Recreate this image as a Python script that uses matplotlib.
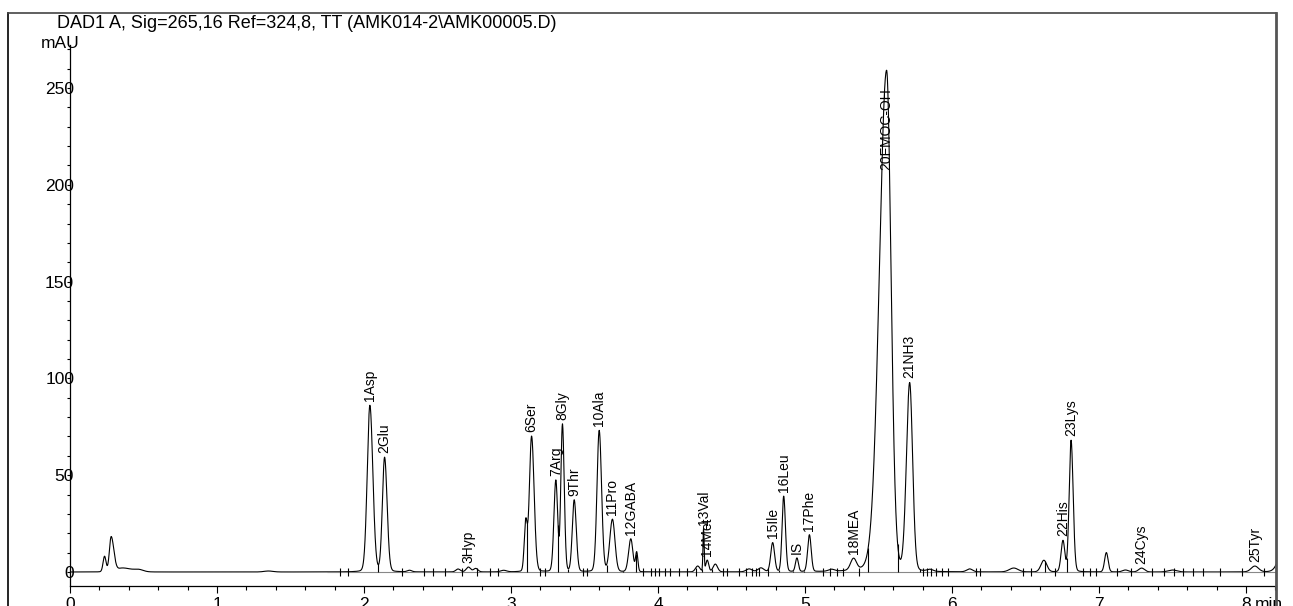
import numpy as np
import matplotlib
matplotlib.use("Agg")
import matplotlib.pyplot as plt
from matplotlib.lines import Line2D

plt.rcParams['font.family'] = ['Liberation Sans', 'DejaVu Sans']

# peak table (min, mAU)
peak_rt = [0.235, 0.280, 0.360, 0.47, 1.35, 2.040, 2.140, 2.31, 2.64, 2.71, 2.76, 2.95,
           3.10, 3.140, 3.305, 3.350, 3.430, 3.600, 3.690, 3.815, 3.855, 4.27, 4.310,
           4.335, 4.39, 4.62, 4.70, 4.780, 4.855, 4.945, 5.030, 5.18, 5.330, 5.555,
           5.712, 5.85, 6.12, 6.42, 6.625, 6.755, 6.810, 7.050, 7.18, 7.29, 7.50,
           8.06, 8.28]
peak_height = [8, 18, 2, 1.0, 0.5, 86, 59, 0.8, 1.5, 2.5, 1.8, 0.8,
               25, 70, 47, 76, 37, 73, 27, 17, 10, 3, 22,
               6, 4, 1.5, 2, 15, 39, 7, 19, 1, 6, 259,
               97, 1, 1.5, 2, 6, 16, 68, 10, 1, 2, 1,
               3, 22]
peak_sigma_left = [0.010, 0.012, 0.040, 0.030, 0.030, 0.018, 0.015, 0.015, 0.015, 0.015, 0.015, 0.02,
                   0.010, 0.015, 0.013, 0.011, 0.013, 0.015, 0.018, 0.015, 0.008, 0.015, 0.004,
                   0.010, 0.015, 0.02, 0.02, 0.013, 0.011, 0.010, 0.012, 0.02, 0.020, 0.049,
                   0.022, 0.02, 0.02, 0.03, 0.020, 0.013, 0.013, 0.012, 0.02, 0.02, 0.03,
                   0.025, 0.040]
peak_sigma_right = [0.010, 0.018, 0.060, 0.030, 0.030, 0.020, 0.017, 0.015, 0.015, 0.015, 0.015, 0.02,
                    0.010, 0.017, 0.012, 0.012, 0.014, 0.016, 0.017, 0.014, 0.008, 0.015, 0.004,
                    0.010, 0.015, 0.02, 0.02, 0.013, 0.012, 0.010, 0.012, 0.02, 0.020, 0.030,
                    0.020, 0.02, 0.02, 0.03, 0.020, 0.012, 0.014, 0.012, 0.02, 0.02, 0.03,
                    0.025, 0.040]
peak_name = ["", "", "", "", "", "1Asp", "2Glu", "", "", "3Hyp", "", "",
             "", "6Ser", "7Arg", "8Gly", "9Thr", "10Ala", "11Pro", "12GABA", "", "", "13Val",
             "14Met", "", "", "", "15Ile", "16Leu", "IS", "17Phe", "", "18MEA", "20FMOC-OH",
             "21NH3", "", "", "", "", "22His", "23Lys", "", "", "24Cys", "",
             "25Tyr", ""]

# integration events
drop_times = [1.76, 2.095, 3.11, 3.32, 3.39, 3.65, 3.76, 3.85, 4.30, 4.37, 4.82, 4.92, 4.99,
              5.43, 5.63, 5.78, 6.63, 6.78]
mark_times = [1.84, 1.89, 2.26, 2.41, 2.47, 2.55, 2.67, 2.77, 2.86, 2.91, 3.20, 3.23, 3.49, 3.52,
              3.90, 3.95, 3.98, 4.01, 4.05, 4.08, 4.14, 4.20, 4.26, 4.44, 4.47, 4.55, 4.60,
              4.64, 4.67, 4.69, 4.75, 5.12, 5.17, 5.22, 5.26, 5.37, 5.80, 5.83, 5.86, 5.89,
              5.93, 5.97, 6.16, 6.19, 6.48, 6.54, 6.70, 6.89, 6.94, 6.98, 7.12, 7.22, 7.36,
              7.44, 7.51, 7.57, 7.64, 7.71, 7.82, 7.97, 8.12]

x_ticks = [0, 1, 2, 3, 4, 5, 6, 7, 8]
y_ticks = [0, 50, 100, 150, 200, 250]
title = "DAD1 A, Sig=265,16 Ref=324,8, TT (AMK014-2\\AMK00005.D)"

W, H = 1293, 606
fig = plt.figure(figsize=(W / 100, H / 100), dpi=100)
ax = fig.add_axes([70 / W, 20 / H, (1276 - 70) / W, (586 - 13) / H])

t = np.linspace(0, 8.4, 8000)
sig = np.zeros_like(t)
for rt, h, sl, sr in zip(peak_rt, peak_height, peak_sigma_left, peak_sigma_right):
    s = np.where(t < rt, sl, sr)
    g = np.exp(-0.5 * ((t - rt) / s) ** 2)
    lor = 1.0 / (1.0 + ((t - rt) / (1.177 * s)) ** 2)
    sig += h * (0.93 * g + 0.07 * lor)

ax.plot(t, sig, color='black', lw=0.8)
ax.hlines(0, 1.75, 8.25, color='#888888', lw=0.8)
ax.vlines(drop_times, 0, np.interp(drop_times, t, sig), color='black', lw=0.8)
ax.vlines(mark_times, -2, 2, color='black', lw=0.8)

for rt, h, name in zip(peak_rt, peak_height, peak_name):
    if not name:
        continue
    top = np.interp(rt, t, sig)
    if top > 250:
        ax.annotate(name, xy=(rt, 250), rotation=90, ha='center', va='top', fontsize=10)
    else:
        ax.annotate(name, xy=(rt, top), xytext=(0, 3), textcoords='offset points',
                    rotation=90, ha='center', va='bottom', fontsize=10)

ax.set_xlim(0, (1276 - 70) / 147)
ax.set_ylim(-14 / 1.936, (572 - 13) / 1.936)

for side in ['top', 'right']:
    ax.spines[side].set_visible(False)
ax.spines['left'].set_bounds(-14 / 1.936, 272)
ax.spines['left'].set_linewidth(0.9)
ax.spines['bottom'].set_linewidth(0.9)

ax.set_xticks(x_ticks)
ax.set_xticklabels([str(v) for v in x_ticks])
ax.set_xticks(np.arange(0, 8.21, 0.2), minor=True)
ax.set_yticks(y_ticks)
ax.set_yticklabels([str(v) for v in y_ticks])
ax.set_yticks(np.arange(0, 271, 10), minor=True)

ax.tick_params(axis='x', which='major', direction='out', length=5, width=0.8, pad=3, labelsize=12.5)
ax.tick_params(axis='x', which='minor', direction='out', length=3, width=0.8)
ax.tick_params(axis='y', which='both', direction='out', length=2, width=0.8, pad=-5, labelsize=12.5)

ax.annotate("min", xy=(8, 0), xycoords=ax.get_xaxis_transform(), xytext=(6, -8),
            textcoords='offset points', ha='left', va='top', fontsize=12.5)

fig.text(60 / W, 1 - 43 / H, "mAU", ha='center', va='center', fontsize=12.5)
fig.text(57 / W, 1 - 24 / H, title, ha='left', va='center', fontsize=13)

# outer frame
fig.add_artist(Line2D([8 / W, 8 / W], [0, 1 - 13 / H], transform=fig.transFigure, color='black', lw=1.2))
fig.add_artist(Line2D([8 / W, 1276 / W], [1 - 13 / H, 1 - 13 / H], transform=fig.transFigure, color='#444444', lw=1.2))
fig.add_artist(Line2D([1276 / W, 1276 / W], [0, 1 - 13 / H], transform=fig.transFigure, color='#555555', lw=2))

fig.savefig("out.png", dpi=100)
